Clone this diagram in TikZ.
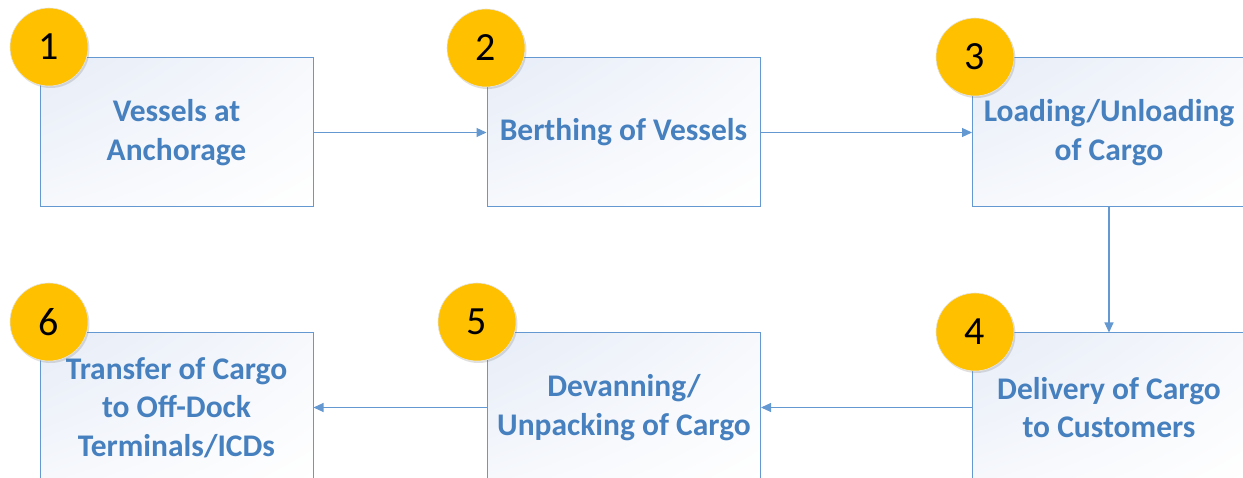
\documentclass[tikz,border=0pt]{standalone}
\usepackage{fontspec}
\setmainfont{Carlito}
\usetikzlibrary{shapes,arrows.meta,shadows,shadings}
\definecolor{stepblue}{RGB}{70,128,190}
\definecolor{edgeblue}{RGB}{100,152,208}
\definecolor{badgegold}{RGB}{255,192,0}
\definecolor{boxtint}{RGB}{230,236,247}
\tikzstyle{flow} = [draw=edgeblue,line width=1.1pt,-{Triangle[length=10pt,width=9pt]}]

\begin{document}
\begin{tikzpicture}
		[x=1pt,y=1pt,
		block/.style={
		draw=edgeblue,
		line width=1pt,
		rectangle,
		minimum width=273pt,
		minimum height=149pt,
		upper left=boxtint,
		upper right=boxtint!35!white,
		lower left=boxtint!35!white,
		lower right=white,
		text=stepblue,
		align=center,
		font=\fontsize{31.5}{38.5}\selectfont\bfseries},
		badge/.style={
		circle,
		minimum size=78pt,
		inner sep=0pt,
		fill=badgegold,
		draw=white!80!gray,
		line width=0.6pt,
		drop shadow={opacity=0.25,shadow xshift=1.5pt,shadow yshift=-2pt},
		font=\fontsize{40}{40}\selectfont}
		]
		\useasboundingbox (0,0) rectangle (1243,-478);
		% top row, left to right
		\node[block](anchorage) at (176.5,-132.5) {Vessels at\\Anchorage};
		\node[block](berthing) at (623.5,-132.5) {Berthing of Vessels};
		\node[block](loading) at (1109,-132.5) {Loading/Unloading\\of Cargo};
		% bottom row, right to left
		\node[block](delivery) at (1109,-407.5) {Delivery of Cargo\\to Customers};
		\node[block](devanning) at (624,-407.5) {Devanning/\\Unpacking of Cargo};
		\node[block](transfer) at (176.5,-407.5) {Transfer of Cargo\\to Off-Dock\\Terminals/ICDs};
		\draw[flow] (anchorage) -- (berthing);
		\draw[flow] (berthing) -- (loading);
		\draw[flow] (loading) -- (delivery);
		\draw[flow] (delivery) -- (devanning);
		\draw[flow] (devanning) -- (transfer);
		% numbered badges
		\node[badge](num_one) at (49,-47) {1};
		\node[badge](num_two) at (486,-48) {2};
		\node[badge](num_three) at (975,-57) {3};
		\node[badge](num_four) at (975,-332) {4};
		\node[badge](num_five) at (477,-322) {5};
		\node[badge](num_six) at (49,-322) {6};
\end{tikzpicture}
\end{document}
